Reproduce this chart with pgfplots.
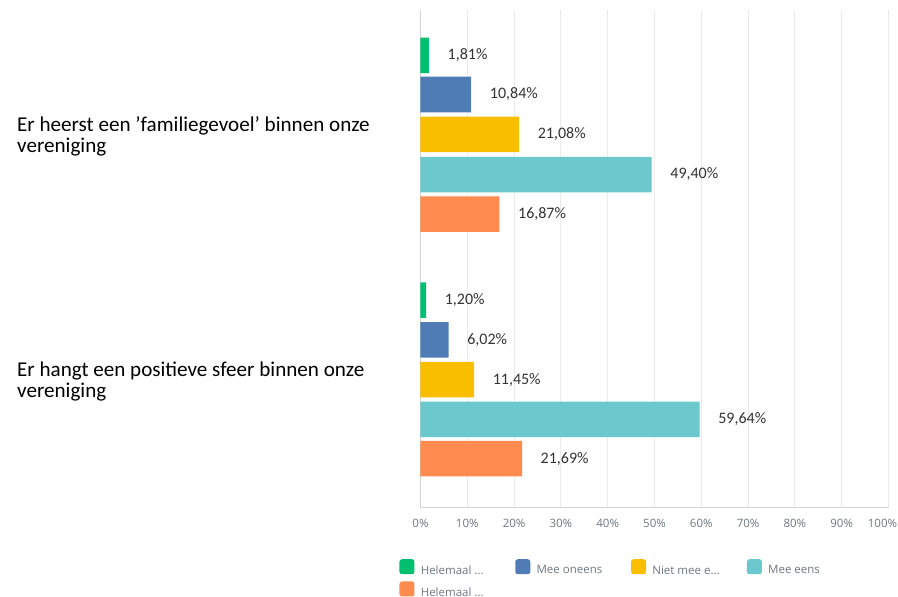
\documentclass[border=0pt]{standalone}
\usepackage{fontspec}
\setmainfont{Carlito}
\newfontfamily\opensans{Open Sans}
\usepackage{pgfplots}
\pgfplotsset{compat=1.18}

\definecolor{cgreen}{HTML}{00BF6F}
\definecolor{cblue}{HTML}{507CB6}
\definecolor{cyellow}{HTML}{F9BE00}
\definecolor{cteal}{HTML}{6BC8CD}
\definecolor{corange}{HTML}{FF8B4F}
\definecolor{gridgray}{HTML}{EBEBEB}
\definecolor{axisgray}{HTML}{D2D2D2}
\definecolor{ticktext}{HTML}{6E7880}
\definecolor{valtext}{HTML}{333333}

\pgfplotsset{
  mybar/.style={
    fill=#1, draw=none, bar shift=0pt,
    legend image code/.code={\fill[#1,rounded corners=2.5pt] (0pt,-3.6pt) rectangle (15pt,11.4pt);}
  }
}

\begin{document}
\begin{tikzpicture}
\useasboundingbox (0,0) rectangle (898pt,597pt);
\begin{axis}[
  at={(420.5pt,90pt)}, anchor=south west,
  scale only axis,
  width=468pt, height=497pt,
  xbar,
  bar width=35.5,
  xmin=0, xmax=100,
  ymin=10, ymax=507,
  y dir=reverse,
  clip=false,
  axis x line*=bottom,
  axis y line*=left,
  axis line style={-, draw=axisgray, line width=1pt},
  xmajorgrids,
  grid style={draw=gridgray, line width=1pt},
  major tick length=0pt,
  xtick={0,10,...,90},
  extra x ticks={100},
  extra x tick style={grid=major, xticklabel style={xshift=-6pt}},
  xticklabel={\pgfmathprintnumber{\tick}\%},
  xticklabel style={font=\opensans\fontsize{11.5}{13}\selectfont, text=ticktext,
    /pgf/number format/assume math mode=true, yshift=-8.5pt},
  ytick={134.3,379.5},
  yticklabels={{Er heerst een ’familiegevoel’ binnen onze\\vereniging},
               {Er hangt een positieve sfeer binnen onze\\vereniging}},
  yticklabel style={anchor=west, align=left, inner sep=0pt, xshift=-403.5pt, yshift=-2pt,
    font=\fontsize{21.1}{21.7}\selectfont, text=black},
  point meta=x,
  nodes near coords={\pgfmathprintnumber[fixed,fixed zerofill,precision=2,use comma,assume math mode=true]{\pgfplotspointmeta}\%},
  nodes near coords style={anchor=west, inner sep=0pt, xshift=18.5pt,
    font=\fontsize{16}{18}\selectfont, text=valtext},
  legend columns=4,
  legend cell align=left,
  legend style={at={(axis description cs:-0.0453,-0.1047)}, anchor=north west,
    draw=none, inner sep=0pt, row sep=5.7pt,
    nodes={inner sep=0pt, font=\opensans\fontsize{11.5}{13}\selectfont, text=ticktext},
    /tikz/every odd column/.append style={column sep=6.3pt}},
]
\addplot[mybar=cgreen] coordinates {(1.81,55.5) (1.20,300.0)};
\addlegendentry{\makebox[94.5pt][l]{Helemaal ...}}
\addplot[mybar=cblue] coordinates {(10.84,94.5) (6.02,339.8)};
\addlegendentry{\makebox[94.5pt][l]{Mee oneens}}
\addplot[mybar=cyellow] coordinates {(21.08,134.3) (11.45,379.7)};
\addlegendentry{\makebox[94.5pt][l]{Niet mee e...}}
\addplot[mybar=cteal] coordinates {(49.40,174.5) (59.64,419.3)};
\addlegendentry{\makebox[94.5pt][l]{Mee eens}}
\addplot[mybar=corange] coordinates {(16.87,214.0) (21.69,458.7)};
\addlegendentry{\makebox[94.5pt][l]{Helemaal ...}}
\end{axis}
\end{tikzpicture}
\end{document}
